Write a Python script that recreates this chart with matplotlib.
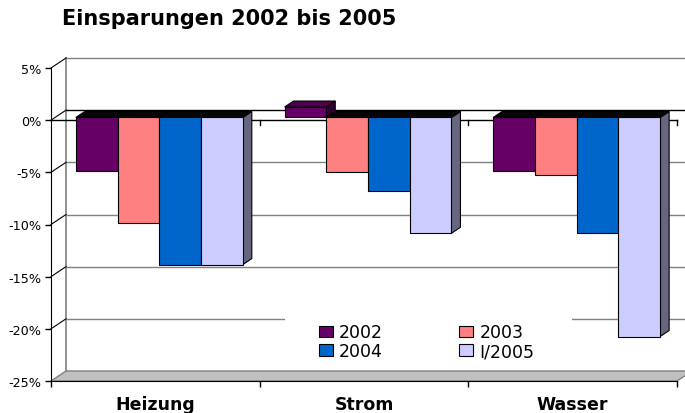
import matplotlib
matplotlib.use("Agg")
import matplotlib.pyplot as plt
from matplotlib.patches import Polygon, Rectangle, Patch

title = "Einsparungen 2002 bis 2005"
categories = ["Heizung", "Strom", "Wasser"]
series = ["2002", "2003", "2004", "I/2005"]
v2002 = [-5.1, 1.0, -5.1]
v2003 = [-10.1, -5.2, -5.5]
v2004 = [-14.1, -7.0, -11.1]
v2005 = [-14.1, -11.1, -21.0]
yticks = [5, 0, -5, -10, -15, -20, -25]
ytick_labels = ["5%", "0%", "-5%", "-10%", "-15%", "-20%", "-25%"]

colors = ["#660066", "#FF8080", "#0066CC", "#CCCCFF"]
side_colors = ["#330033", "#804040", "#003366", "#666680"]
top_pos_colors = ["#4D004D", "#B35A5A", "#004C99", "#9999BF"]

W, H = 685, 414
fig = plt.figure(figsize=(W / 100, H / 100), dpi=100)
L, R, T, B = 51, 677, 69, 382
ax = fig.add_axes([L / W, (H - B) / H, (R - L) / W, (B - T) / H])
ax.set_xlim(0, 3)
ax.set_ylim(-25, 5)
ax.set_facecolor("none")

PX = (R - L) / 3.0
PY = (B - T) / 30.0
def dx(p):
    return p / PX
def dy(p):
    return p / PY

BX, BY = dx(15), dy(10)
FX, FY = dx(4), dy(2.7)
DX, DY = dx(9), dy(6)

ymin, ymax = -25, 5
# floor
floor = Polygon([(0, ymin), (3, ymin), (3 + BX, ymin + BY), (BX, ymin + BY)],
                closed=True, facecolor="#C0C0C0", edgecolor="#808080", lw=1.0,
                zorder=1, clip_on=False)
ax.add_patch(floor)
# back wall left edge
ax.plot([BX, BX], [ymin + BY, ymax + BY], color="#808080", lw=1.2, zorder=1, clip_on=False)
# gridlines on back wall and left wall
for v in yticks:
    if v == ymin:
        continue
    col = "#000000" if v == 0 else "#808080"
    ax.plot([BX, 3 + BX], [v + BY, v + BY], color=col, lw=1.0, zorder=1, clip_on=False)
    ax.plot([0, BX], [v, v + BY], color="#000000", lw=0.8, zorder=1, clip_on=False)

# front zero line
ax.plot([0, 3], [0, 0], color="#000000", lw=1.0, zorder=1.5, clip_on=False)
for xb in [1, 2, 3]:
    ax.plot([xb, xb], [0, -dy(4.5)], color="#000000", lw=1.0, zorder=1.5, clip_on=False)

# bars
data = [v2002, v2003, v2004, v2005]
bw = 0.2
z = 3
for ci in range(len(categories)):
    for si, vals in enumerate(data):
        v = vals[ci]
        x0 = ci + 0.1 + bw * si + FX
        x1 = x0 + bw
        top = max(v, 0) + FY
        bot = min(v, 0) + FY
        ax.bar([x0], [v], width=bw, bottom=FY, align="edge",
               color=colors[si], edgecolor="#000000", linewidth=0.8, zorder=z)
        # side face
        side = Polygon([(x1, bot), (x1, top), (x1 + DX, top + DY), (x1 + DX, bot + DY)],
                       closed=True, facecolor=side_colors[si], edgecolor="#000000",
                       lw=0.8, zorder=z - 0.1)
        ax.add_patch(side)
        # top face
        tcol = top_pos_colors[si] if v > 0 else "#050505"
        topf = Polygon([(x0, top), (x1, top), (x1 + DX, top + DY), (x0 + DX, top + DY)],
                       closed=True, facecolor=tcol, edgecolor="#000000", lw=0.8, zorder=z + 0.05)
        ax.add_patch(topf)
        z += 0.2

# axes styling
for s in ["top", "right"]:
    ax.spines[s].set_visible(False)
ax.spines["left"].set_color("#000000")
ax.spines["bottom"].set_color("#000000")
ax.spines["left"].set_zorder(2)
ax.spines["bottom"].set_zorder(2)
ax.set_yticks(yticks, labels=ytick_labels)
ax.tick_params(axis="y", direction="out", length=4, width=1, pad=3, labelsize=9.2, colors="#000000")
ax.set_xticks([0.5, 1.5, 2.5], labels=categories)
ax.set_xticks([0, 1, 2, 3], minor=True)
ax.tick_params(axis="x", which="major", length=0, pad=10)
ax.tick_params(axis="x", which="minor", length=4.5, width=1, direction="out")
for lab in ax.get_xticklabels():
    lab.set_fontweight("bold")
    lab.set_fontsize(12.5)

# legend background
bg = Rectangle((285 / W, (H - 365) / H), (572 - 285) / W, (365 - 308) / H,
               transform=fig.transFigure, facecolor="white", edgecolor="none", zorder=4)
fig.patches.append(bg)
handles = [Patch(facecolor=colors[i], edgecolor="#000000", linewidth=0.8) for i in range(4)]
order = [0, 2, 1, 3]
leg = fig.legend([handles[i] for i in order], [series[i] for i in order], ncol=2,
                 loc="upper left", bbox_to_anchor=(319 / W, (H - 324.5) / H),
                 frameon=False, fontsize=12.5, handlelength=0.8, handleheight=0.65,
                 handletextpad=0.35, columnspacing=4.4, labelspacing=0.04, borderpad=0,
                 borderaxespad=0)
leg.set_zorder(5)

fig.text(62 / W, (H - 25) / H, title, fontsize=15, fontweight="bold", ha="left", va="baseline")

fig.savefig("out.png", dpi=100)
